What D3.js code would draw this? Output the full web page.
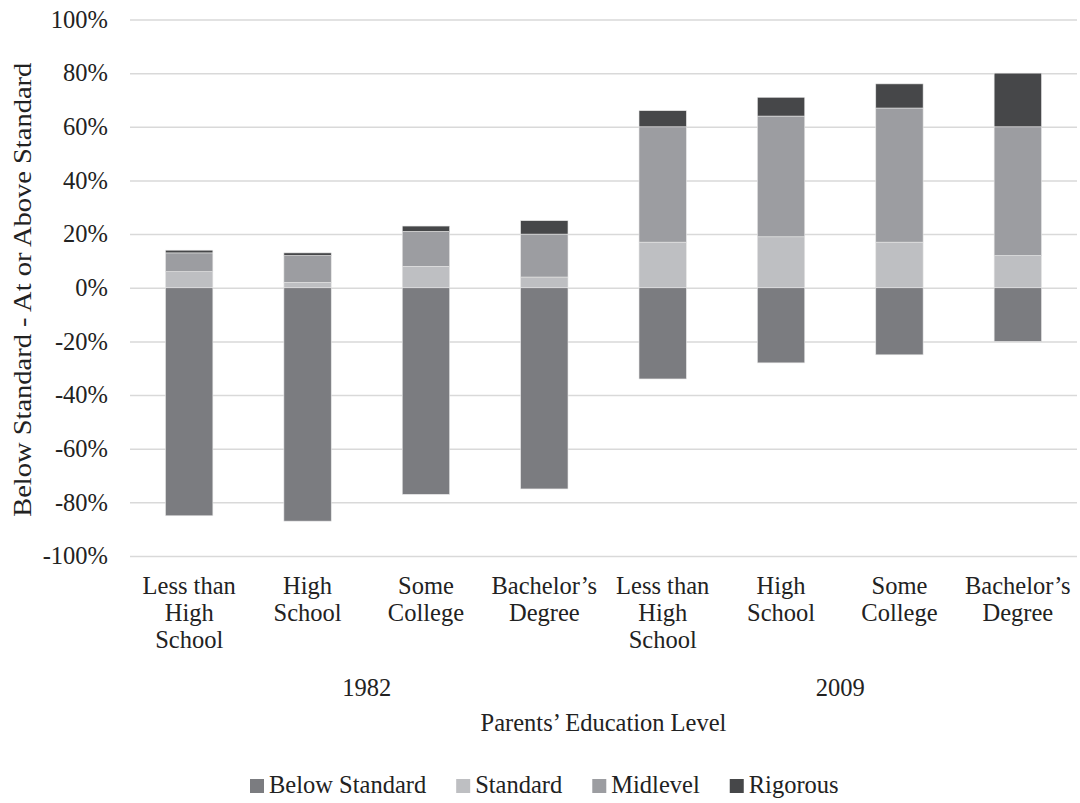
<!DOCTYPE html>
<html>
<head>
<meta charset="utf-8">
<script src="https://cdn.jsdelivr.net/npm/d3@7"></script>
<style>
  html, body { margin: 0; padding: 0; background: #fff; }
  svg text { font-family: "Liberation Serif", "Times New Roman", serif; fill: #222; }
</style>
</head>
<body>
<svg id="chart" width="1080" height="803"></svg>
<script>
// Parents' education level, per survey year (share of graduates by curriculum level)
const years = ["1982", "2009"];
const levels = ["Less than High School", "High School", "Some College", "Bachelor’s Degree"];
const levelLines = [["Less than", "High", "School"], ["High", "School"], ["Some", "College"], ["Bachelor’s", "Degree"]];

// Values in percent, one entry per year × level (1982 first, then 2009)
const belowStandard = [-85, -87, -77, -75, -34, -28, -25, -20];
const standard      = [6, 2, 8, 4, 17, 19, 17, 12];
const midlevel      = [7, 10, 13, 16, 43, 45, 50, 48];
const rigorous      = [1, 1, 2, 5, 6, 7, 9, 20];

const seriesNames = ["Below Standard", "Standard", "Midlevel", "Rigorous"];
const seriesColors = ["#7b7c80", "#bebfc2", "#9c9da1", "#464749"];
const yTicks = [-100, -80, -60, -40, -20, 0, 20, 40, 60, 80, 100];

const FONT = 24.5;

const rows = [];
years.forEach((yr, yi) => levels.forEach((lv, li) => {
  const i = yi * levels.length + li;
  rows.push({ key: yr + "|" + lv, year: yr, li, i,
    "Below Standard": belowStandard[i], "Standard": standard[i],
    "Midlevel": midlevel[i], "Rigorous": rigorous[i] });
}));

const svg = d3.select("#chart");
const margin = { left: 130, right: 3, top: 19.5, bottom: 247 };
const W = 1080, H = 803;

const x = d3.scaleBand().domain(rows.map(d => d.key))
  .range([margin.left, W - margin.right]).paddingInner(0.6).paddingOuter(0.3);
const y = d3.scaleLinear().domain([-100, 100]).range([H - margin.bottom, margin.top]);

// Gridlines and y tick labels
const yAxis = d3.axisLeft(y).tickValues(yTicks).tickFormat(d => d + "%")
  .tickSize(-(W - margin.right - margin.left)).tickPadding(22);
const gy = svg.append("g").attr("transform", `translate(${margin.left},0)`).call(yAxis);
gy.attr("font-family", null).attr("font-size", null);
gy.select(".domain").remove();
gy.selectAll(".tick line").attr("stroke", "#d9d9d9").attr("stroke-width", 1.5);
gy.selectAll(".tick text").attr("font-size", FONT).attr("fill", "#222");

// Stacked bars: negatives go down from zero, positives stack upward
const stack = d3.stack().keys(seriesNames).offset(d3.stackOffsetDiverging);
const stacked = stack(rows);

svg.append("g").selectAll("g").data(stacked).join("g")
  .attr("fill", (d, i) => seriesColors[i])
  .selectAll("rect").data(d => d).join("rect")
  .attr("x", d => x(d.data.key))
  .attr("width", x.bandwidth())
  .attr("y", d => y(Math.max(d[0], d[1])))
  .attr("height", d => Math.abs(y(d[0]) - y(d[1])))
  .attr("stroke", "#e6e6e6").attr("stroke-width", 0.6);

// Category labels (multi-line)
const catG = svg.append("g");
rows.forEach(d => {
  const cx = x(d.key) + x.bandwidth() / 2;
  const t = catG.append("text").attr("text-anchor", "middle").attr("font-size", FONT);
  levelLines[d.li].forEach((ln, k) => {
    t.append("tspan").attr("x", cx).attr("y", 594 + k * 27).text(ln);
  });
});

// Year group labels
const step = x.step();
years.forEach((yr, yi) => {
  const first = x(yr + "|" + levels[0]) - step * x.paddingInner() / 2;
  const cx = first + step * levels.length / 2;
  svg.append("text").attr("x", cx).attr("y", 696).attr("text-anchor", "middle")
    .attr("font-size", FONT).text(yr);
});

// Axis titles
const plotMidX = (margin.left + W - margin.right) / 2;
svg.append("text").attr("x", plotMidX).attr("y", 731).attr("text-anchor", "middle")
  .attr("font-size", FONT).text("Parents’ Education Level");
svg.append("text")
  .attr("transform", `translate(31,${y(0) + 2}) scale(0.86,1) rotate(-90)`)
  .attr("text-anchor", "middle").attr("font-size", 28.5)
  .text("Below Standard - At or Above Standard");

// Legend
const legend = svg.append("g").attr("transform", "translate(250,793)");
let lx = 0;
seriesNames.forEach((name, i) => {
  const g = legend.append("g").attr("transform", `translate(${lx},0)`);
  g.append("rect").attr("x", 0).attr("y", -14).attr("width", 14).attr("height", 14)
    .attr("fill", seriesColors[i]);
  const t = g.append("text").attr("x", 19).attr("y", 0).attr("font-size", FONT).text(name);
  lx += 19 + t.node().getComputedTextLength() + 30;
});
</script>
</body>
</html>
